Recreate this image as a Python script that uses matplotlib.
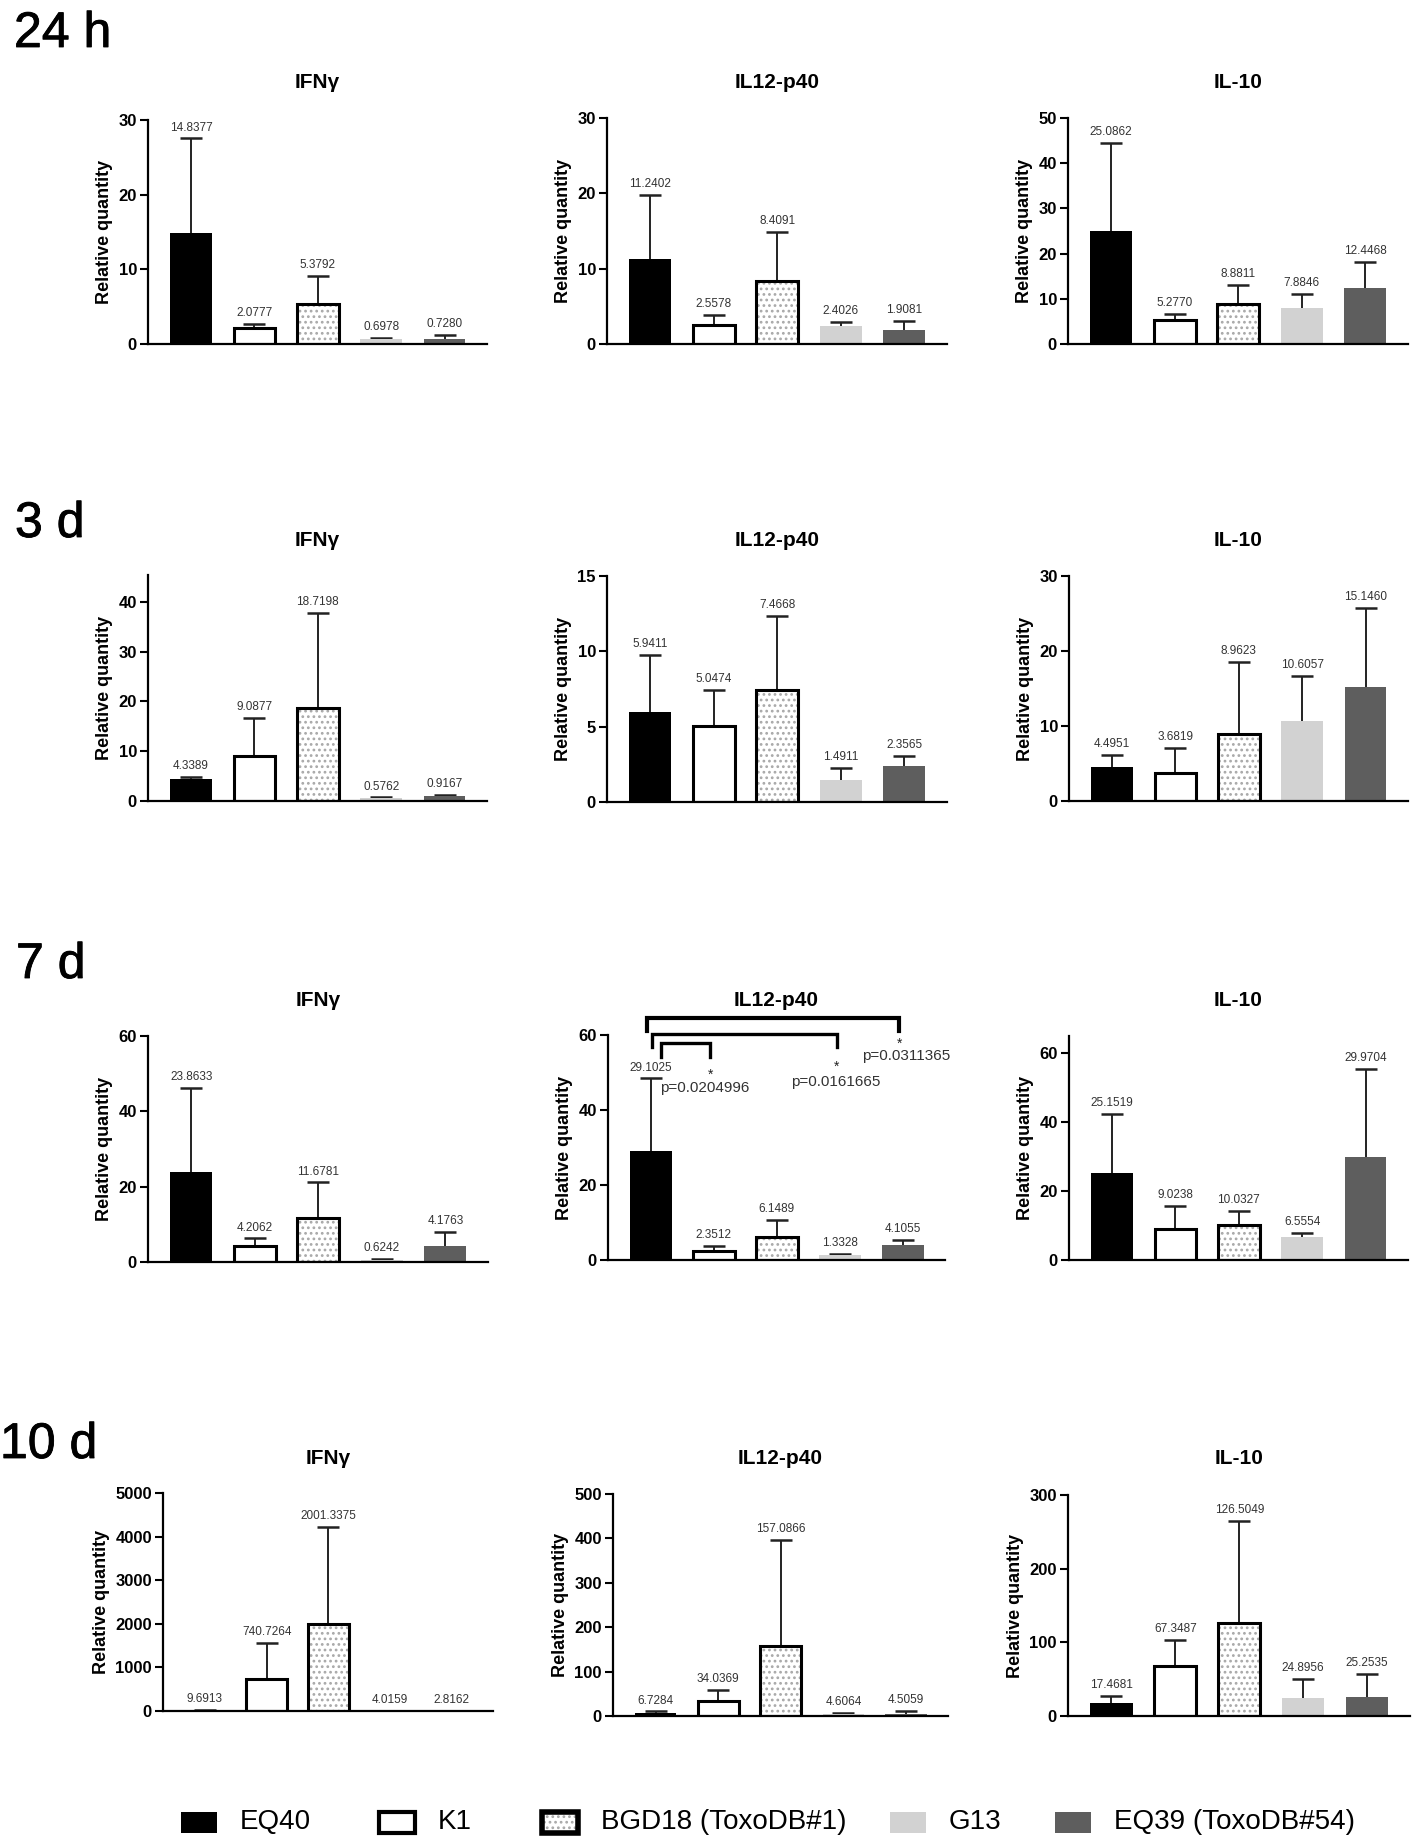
import matplotlib
matplotlib.use('Agg')
import matplotlib.pyplot as plt
from matplotlib.patches import Rectangle
import matplotlib.patheffects as pe
import numpy as np

plt.rcParams['font.family'] = ['Liberation Sans', 'DejaVu Sans']
plt.rcParams['hatch.linewidth'] = 1.2

W, H = 1417, 1847

# ---------------- data ----------------
strains = ['EQ40', 'K1', 'BGD18 (ToxoDB#1)', 'G13', 'EQ39 (ToxoDB#54)']
timepoints = ['24 h', '3 d', '7 d', '10 d']
cytokines = ['IFNγ', 'IL12-p40', 'IL-10']

ifng_24h = [14.8377, 2.0777, 5.3792, 0.6978, 0.7280]
ifng_24h_sd = [12.7, 0.56, 3.7, 0.10, 0.47]
il12_24h = [11.2402, 2.5578, 8.4091, 2.4026, 1.9081]
il12_24h_sd = [8.5, 1.35, 6.5, 0.47, 1.1]
il10_24h = [25.0862, 5.2770, 8.8811, 7.8846, 12.4468]
il10_24h_sd = [19.4, 1.4, 4.2, 3.2, 5.8]

ifng_3d = [4.3389, 9.0877, 18.7198, 0.5762, 0.9167]
ifng_3d_sd = [0.42, 7.6, 19.0, 0.15, 0.3]
il12_3d = [5.9411, 5.0474, 7.4668, 1.4911, 2.3565]
il12_3d_sd = [3.8, 2.37, 4.9, 0.79, 0.68]
il10_3d = [4.4951, 3.6819, 8.9623, 10.6057, 15.1460]
il10_3d_sd = [1.64, 3.43, 9.6, 6.1, 10.6]

ifng_7d = [23.8633, 4.2062, 11.6781, 0.6242, 4.1763]
ifng_7d_sd = [22.3, 2.05, 9.45, 0.28, 3.85]
il12_7d = [29.1025, 2.3512, 6.1489, 1.3328, 4.1055]
il12_7d_sd = [19.3, 1.4, 4.57, 0.19, 1.25]
il10_7d = [25.1519, 9.0238, 10.0327, 6.5554, 29.9704]
il10_7d_sd = [17.3, 6.6, 4.24, 1.2, 25.5]

ifng_10d = [9.6913, 740.7264, 2001.3375, 4.0159, 2.8162]
ifng_10d_sd = [5.0, 815.0, 2226.0, 3.0, 2.0]
il12_10d = [6.7284, 34.0369, 157.0866, 4.6064, 4.5059]
il12_10d_sd = [3.5, 24.0, 239.0, 3.0, 6.0]
il10_10d = [17.4681, 67.3487, 126.5049, 24.8956, 25.2535]
il10_10d_sd = [9.7, 35.6, 138.6, 25.9, 32.4]

# significance (7 d, IL12-p40): (group a, group b, label)
sig_7d_il12 = [(0, 4, 'p=0.0311365'), (0, 3, 'p=0.0161665'), (0, 1, 'p=0.0204996')]

MEANS = [[ifng_24h, il12_24h, il10_24h],
         [ifng_3d, il12_3d, il10_3d],
         [ifng_7d, il12_7d, il10_7d],
         [ifng_10d, il12_10d, il10_10d]]
SDS = [[ifng_24h_sd, il12_24h_sd, il10_24h_sd],
       [ifng_3d_sd, il12_3d_sd, il10_3d_sd],
       [ifng_7d_sd, il12_7d_sd, il10_7d_sd],
       [ifng_10d_sd, il12_10d_sd, il10_10d_sd]]

# ---------------- layout / style ----------------
AX_PX = [  # left, right, top, bottom (pixels)
    [(148, 487, 120, 344), (607, 947, 118, 344), (1068, 1408, 118, 344)],
    [(148, 487, 575, 801), (607, 947, 576, 802), (1069, 1408, 576, 801)],
    [(148, 488, 1036, 1262), (608, 945, 1035, 1260), (1069, 1408, 1036, 1260)],
    [(163, 493, 1493, 1711), (613, 948, 1494, 1716), (1068, 1410, 1495, 1716)],
]
YLIM = [[30, 30, 50], [45.4, 15, 30], [60, 60, 65], [5000, 500, 300]]
YSTEP = [[10, 10, 10], [10, 5, 10], [20, 20, 20], [1000, 100, 100]]
YTICKMAX = [[30, 30, 50], [40, 15, 30], [60, 60, 60], [5000, 500, 300]]
TITLE_Y = [83, 541, 1001, 1459]
ROW_LABEL_XY = [(14, 47), (15, 537), (16, 978), (0, 1458)]

FACE = ['black', 'white', 'white', '#d2d2d2', '#5e5e5e']
EDGE = ['black', 'black', 'black', '#d2d2d2', '#5e5e5e']
LW = [0, 2.2, 2.2, 0, 0]
HATCH = [None, None, '...', None, None]
HATCH_COLOR = '#a8a8a8'
BAR_W = 0.66

fig = plt.figure(figsize=(W / 100, H / 100), dpi=100)


def rect(l, r, t, b):
    return [l / W, 1 - b / H, (r - l) / W, (b - t) / H]


def draw_bars(ax, x, m):
    for i in range(len(x)):
        if HATCH[i]:
            ax.bar(x[i], m[i], BAR_W, color='white', edgecolor=HATCH_COLOR,
                   hatch=HATCH[i], linewidth=0, zorder=2)
            ax.bar(x[i], m[i], BAR_W, fill=False, edgecolor='black',
                   linewidth=LW[i], zorder=2.5)
        else:
            ax.bar(x[i], m[i], BAR_W, color=FACE[i], edgecolor=EDGE[i],
                   linewidth=LW[i], zorder=2)


for r, tp in enumerate(timepoints):
    lx, ly = ROW_LABEL_XY[r]
    fig.text(lx / W, 1 - ly / H, tp, fontsize=36, ha='left', va='baseline',
             path_effects=[pe.withStroke(linewidth=0.6, foreground='black')])
    for c, cy in enumerate(cytokines):
        l, rr, t, b = AX_PX[r][c]
        ax = fig.add_axes(rect(l, rr, t, b))
        m = np.array(MEANS[r][c])
        e = np.array(SDS[r][c])
        x = np.arange(len(strains))
        draw_bars(ax, x, m)
        # upper error bars only (stem + top cap)
        ax.vlines(x, m, m + e, colors='#222222', linewidth=1.4, zorder=1.5)
        ax.errorbar(x, m + e, yerr=None, fmt='_', color='#222222',
                    markersize=16, markeredgewidth=1.8, zorder=1.6)
        for xi, mi, ei in zip(x, m, e):
            ax.annotate(f'{mi:.4f}', (xi, mi + ei), xytext=(0, 3.5),
                        textcoords='offset points', ha='center', va='bottom',
                        fontsize=8.5, color='#333333')
        ax.set_xlim(-0.68, 4.67)
        ax.set_ylim(0, YLIM[r][c])
        ax.set_yticks(np.arange(0, YTICKMAX[r][c] + 1e-9, YSTEP[r][c]))
        ax.set_xticks([])
        ax.spines['top'].set_visible(False)
        ax.spines['right'].set_visible(False)
        for s in ('left', 'bottom'):
            ax.spines[s].set_linewidth(1.6)
        ax.tick_params(axis='y', length=6, width=1.5, pad=2, labelsize=12)
        for lab in ax.get_yticklabels():
            lab.set_fontweight('bold')
        ax.set_ylabel('Relative quantity', fontsize=13, fontweight='bold', labelpad=4)
        fig.text(((l + rr) / 2) / W, 1 - TITLE_Y[r] / H, cy, ha='center', va='center',
                 fontsize=15, fontweight='bold')

        if r == 2 and c == 1:
            # bracket geometry (data units)
            br_y = [64.6, 60.3, 57.9]
            br_drop = [61.0, 56.8, 54.1]
            br_x0 = [-0.06, 0.02, 0.16]
            br_dx1 = [-0.06, -0.05, -0.06]
            br_lw = [3.0, 2.4, 2.4]
            star_y = [57.6, 51.4, 49.5]
            txt_y = [54.4, 47.4, 45.8]
            txt_dx = [0.11, -0.01, -0.08]
            for k, (a, bb, lab) in enumerate(sig_7d_il12):
                x0 = a + br_x0[k]
                x1 = bb + br_dx1[k]
                ax.plot([x0, x0, x1, x1], [br_drop[k], br_y[k], br_y[k], br_drop[k]],
                        color='black', lw=br_lw[k], clip_on=False,
                        solid_joinstyle='miter', zorder=4)
                ax.text(x1, star_y[k], '*', ha='center', va='center', fontsize=10,
                        color='#222222', clip_on=False)
                ax.text(x1 + txt_dx[k], txt_y[k], lab, ha='center', va='center',
                        fontsize=11, color='#333333', clip_on=False)

# ---------------- legend ----------------
LEG_SQ_X = [181, 379, 542, 890, 1055]
LEG_Y = 1822
for i, name in enumerate(strains):
    x0 = LEG_SQ_X[i]
    kw = dict(transform=fig.transFigure, figure=fig)
    if HATCH[i]:
        fig.patches.append(Rectangle((x0 / W, (H - LEG_Y - 10.5) / H), 36 / W, 21 / H,
                                     facecolor='white', edgecolor=HATCH_COLOR, hatch=HATCH[i],
                                     linewidth=0, **kw))
        fig.patches.append(Rectangle((x0 / W, (H - LEG_Y - 10.5) / H), 36 / W, 21 / H,
                                     fill=False, edgecolor='black', linewidth=4, **kw))
    else:
        fig.patches.append(Rectangle((x0 / W, (H - LEG_Y - 10.5) / H), 36 / W, 21 / H,
                                     facecolor=FACE[i], edgecolor=EDGE[i],
                                     linewidth=(3 if LW[i] else 0), **kw))
    fig.text((x0 + 59) / W, 1 - LEG_Y / H, name, ha='left', va='center', fontsize=20)

fig.savefig('out.png', dpi=100, facecolor='white')
